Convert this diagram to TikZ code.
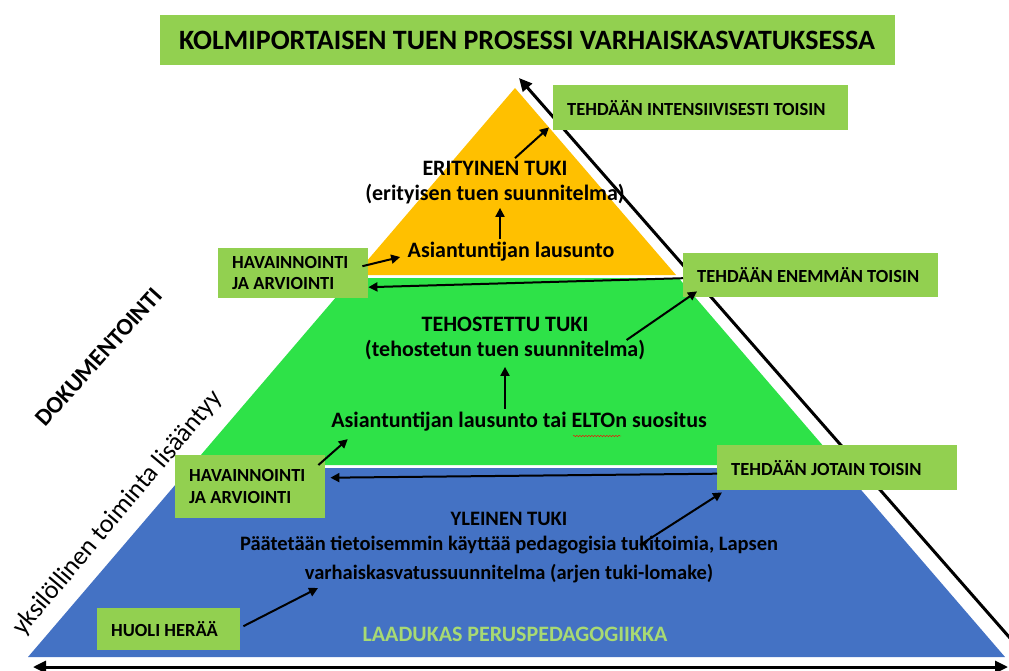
\documentclass[tikz,border=0pt]{standalone}
\usepackage{fontspec}
\setmainfont{Carlito}
\usetikzlibrary{arrows.meta,decorations.pathmorphing}
\definecolor{boxgreen}{RGB}{146,208,80}
\definecolor{topyellow}{RGB}{255,192,0}
\definecolor{midgreen}{RGB}{46,226,72}
\definecolor{lowblue}{RGB}{68,114,196}
\tikzset{
  stepbox/.style={fill=boxgreen, anchor=north west, align=flush left, inner xsep=14pt, inner ysep=0pt,
    font=\bfseries\fontsize{18.5}{21.5}\selectfont},
  levtext/.style={font=\bfseries\fontsize{22}{25}\selectfont, align=flush center},
  arr/.style={-{Triangle[length=9pt,width=9pt]}, line width=2pt},
  bigarr/.style={{Triangle[length=13pt,width=12pt]}-{Triangle[length=13pt,width=12pt]}, line width=3pt},
}
\begin{document}
\begin{tikzpicture}[x=1pt,y=-1pt]
        \useasboundingbox (0,0) rectangle (1009,671);
        % title
        \node[fill=boxgreen, minimum width=735pt, minimum height=50pt, font=\bfseries\fontsize{28}{32}\selectfont] (title) at (527,40) {KOLMIPORTAISEN TUEN PROSESSI VARHAISKASVATUKSESSA};
        % the three levels
        \fill[topyellow] (515,88) -- (676,275) -- (354.9,275) -- cycle;
        \fill[midgreen] (352.4,278) -- (678.6,278) -- (839.6,465) -- (192.3,465) -- cycle;
        \fill[lowblue] (189.7,468) -- (842.2,468) -- (1005,657) -- (28,657) -- cycle;
        % outer arrows
        \coordinate (top) at (519,78);
        \coordinate (far) at (1031,662);
        \coordinate (cornerR) at (1008,667);
        \coordinate (cornerL) at (33,667);
        \draw[bigarr] (top) -- (far);
        \draw[bigarr] (cornerL) -- (cornerR);
        % side texts
        \node[rotate=48, font=\bfseries\fontsize{24}{28}\selectfont] (doku) at (99,357) {DOKUMENTOINTI};
        \node[rotate=50, font=\fontsize{26}{30}\selectfont] (yksi) at (118,513) {yksilöllinen toiminta lisääntyy};
        % boxes
        \node[stepbox, text width=267pt, minimum height=45pt] (int) at (553,85) {TEHDÄÄN INTENSIIVISESTI TOISIN};
        \node[stepbox, text width=227pt, minimum height=44pt] (enem) at (683,253) {TEHDÄÄN ENEMMÄN TOISIN};
        \node[stepbox, text width=212pt, minimum height=45pt] (jot) at (717,445) {TEHDÄÄN JOTAIN TOISIN};
        \node[stepbox, text width=122pt, minimum height=50pt] (hav1) at (218,248) {HAVAINNOINTI\\JA ARVIOINTI};
        \node[stepbox, text width=122pt, minimum height=63pt] (hav2) at (175,455) {HAVAINNOINTI\\JA ARVIOINTI};
        \node[stepbox, text width=115pt, minimum height=42pt] (huoli) at (97,608) {HUOLI HERÄÄ};
        % texts in the levels
        \node[levtext] (eri) at (495,183) {ERITYINEN TUKI\\(erityisen tuen suunnitelma)};
        \node[levtext] (lau1) at (511,252) {Asiantuntijan lausunto};
        \node[levtext] (teh) at (505,338) {TEHOSTETTU TUKI\\(tehostetun tuen suunnitelma)};
        \node[levtext] (lau2) at (519,422) {Asiantuntijan lausunto tai ELTOn suositus};
        \node[levtext, font=\bfseries\fontsize{20.5}{25}\selectfont] (yle) at (509,548) {YLEINEN TUKI\\Päätetään tietoisemmin käyttää pedagogisia tukitoimia, Lapsen\\[4pt]varhaiskasvatussuunnitelma (arjen tuki-lomake)};
        \node[font=\bfseries\fontsize{22}{26}\selectfont, text=boxgreen!80!white] (laad) at (515,634) {LAADUKAS PERUSPEDAGOGIIKKA};
        \draw[red, decorate, decoration={snake, amplitude=0.7pt, segment length=3pt}] (573,436) -- (621,436);
        % connectors
        \coordinate (yleA) at (640,545);
        \coordinate (varh) at (318,588);
        \draw[arr] ([xshift=-11pt]lau1.north) -- ([xshift=-11pt]lau1.north |- eri.south);
        \draw[arr] ([xshift=20pt]eri.north) -- ([shift={(-4pt,3pt)}]int.south west);
        \draw[arr] ([shift={(-6pt,7pt)}]hav1.east) -- ([shift={(-4pt,-5pt)}]lau1.west);
        \draw[arr] ([yshift=-3pt]enem.west) -- ([yshift=-14pt]hav1.east);
        \draw[arr] ([xshift=-22pt,yshift=-2pt]teh.east) -- ([shift={(14pt,6pt)}]enem.south west);
        \draw[arr] (teh.south |- lau2.north) -- ([yshift=-4pt]teh.south);
        \draw[arr] ([shift={(-7pt,-10pt)}]hav2.north east) -- ([xshift=20pt,yshift=-4pt]lau2.south west);
        \draw[arr] ([yshift=-6pt]jot.west) -- ([yshift=9pt,xshift=5pt]hav2.east);
        \draw[arr] (yleA) -- ([xshift=5pt,yshift=-2pt]jot.south west);
        \draw[arr] ([shift={(3pt,3pt)}]huoli.east) -- (varh);
\end{tikzpicture}
\end{document}
